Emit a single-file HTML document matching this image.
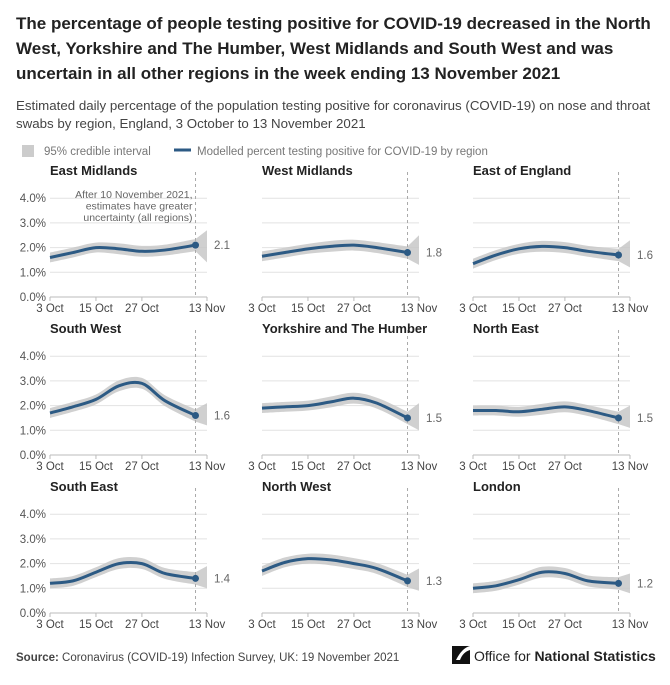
<!DOCTYPE html>
<html><head><meta charset="utf-8"><style>
body{margin:0;background:#fff;width:670px;height:680px;overflow:hidden;font-family:"Liberation Sans",sans-serif}
svg text{font-family:"Liberation Sans",sans-serif}
</style></head><body>
<svg id="c" width="670" height="680" viewBox="0 0 670 680">
<text x="16" y="29" font-size="17" font-weight="bold" fill="#222">The percentage of people testing positive for COVID-19 decreased in the North</text>
<text x="16" y="54" font-size="17" font-weight="bold" fill="#222">West, Yorkshire and The Humber, West Midlands and South West and was</text>
<text x="16" y="79" font-size="17" font-weight="bold" fill="#222">uncertain in all other regions in the week ending 13 November 2021</text>
<text x="16" y="110" font-size="13.3" fill="#444">Estimated daily percentage of the population testing positive for coronavirus (COVID-19) on nose and throat</text>
<text x="16" y="128" font-size="13.3" fill="#444">swabs by region, England, 3 October to 13 November 2021</text>
<rect x="22" y="145" width="12" height="12" fill="#ccc"/>
<text x="44" y="155" font-size="11.5" fill="#777">95% credible interval</text>
<line x1="174" y1="150" x2="191" y2="150" stroke="#2c5a84" stroke-width="3"/>
<text x="197" y="155" font-size="11.5" fill="#777">Modelled percent testing positive for COVID-19 by region</text>
<g id="panels"></g>
<text x="16" y="661" font-size="11.5" fill="#444"><tspan font-weight="bold">Source:</tspan> Coronavirus (COVID-19) Infection Survey, UK: 19 November 2021</text>
<g>
<path d="M452 646 h18 v18 h-18 z" fill="#111"/>
<path d="M456 660 q6 -12 14 -14 v4 q-7 2 -10 10 z" fill="#fff"/>
<text x="474" y="661" font-size="14" fill="#222">Office for <tspan font-weight="bold">National Statistics</tspan></text>
</g>
</svg>
<script>
const regions=["East Midlands","West Midlands","East of England","South West","Yorkshire and The Humber","North East","South East","North West","London"];
const days=[0,6,12,18,24,30,38];
const values=[
[1.6,1.8,2.0,1.95,1.85,1.9,2.1],
[1.65,1.8,1.95,2.05,2.1,2.0,1.8],
[1.35,1.7,1.95,2.05,2.0,1.85,1.7],
[1.7,1.95,2.25,2.8,2.9,2.2,1.6],
[1.9,1.95,2.0,2.15,2.3,2.1,1.5],
[1.8,1.8,1.75,1.85,1.95,1.8,1.5],
[1.2,1.3,1.65,2.0,2.0,1.6,1.4],
[1.7,2.05,2.2,2.15,2.0,1.8,1.3],
[1.0,1.1,1.35,1.65,1.6,1.3,1.2]];
const halfWidth=[0.2,0.2,0.2,0.22,0.22,0.22,0.25];
const endLower=[1.4,1.3,1.2,1.2,1.0,1.1,1.0,0.9,0.8];
const endUpper=[2.7,2.5,2.3,2.1,2.1,2.0,1.9,1.8,1.6];
const endLabels=["2.1","1.8","1.6","1.6","1.5","1.5","1.4","1.3","1.2"];
const tickDays=[0,12,24,41];
const tickLabels=["3 Oct","15 Oct","27 Oct","13 Nov"];
const yTicks=[0,1,2,3,4];
const markerDay=38;
const NS="http://www.w3.org/2000/svg";
const g=document.getElementById('panels');
function el(t,a,p){const e=document.createElementNS(NS,t);for(const k in a)e.setAttribute(k,a[k]);(p||g).appendChild(e);return e;}
function smooth(pts){let d="M"+pts[0][0]+","+pts[0][1];for(let i=0;i<pts.length-1;i++){const p0=pts[i-1]||pts[i],p1=pts[i],p2=pts[i+1],p3=pts[i+2]||p2;const c1=[p1[0]+(p2[0]-p0[0])/6,p1[1]+(p2[1]-p0[1])/6],c2=[p2[0]-(p3[0]-p1[0])/6,p2[1]-(p3[1]-p1[1])/6];d+=" C"+c1+" "+c2+" "+p2;}return d;}
const colX=[50,262,473],rowY=[297,455,613];
regions.forEach((name,i)=>{
 const ox=colX[i%3],oy=rowY[Math.floor(i/3)];
 const x=d=>ox+d*157/41,y=v=>oy-v*24.7;
 const pg=el('g',{});
 
 
 const t=el('text',{x:ox,y:oy-122,'font-size':13,'font-weight':'bold',fill:'#222'},pg);t.textContent=name;
 
 
 yTicks.forEach(v=>{
  const l=el('line',{x1:ox,x2:x(41),y1:y(v),y2:y(v),stroke:v?'#e2e2e2':'#bbb','stroke-width':1},pg);
  
  
  if(i%3===0){const tt=el('text',{x:ox-4,y:y(v)+4,'font-size':11.5,fill:'#555','text-anchor':'end'},pg);tt.textContent=v.toFixed(1)+'%';
   
   }
 });
 tickDays.forEach((d,k)=>{
  el('line',{x1:x(d),x2:x(d),y1:oy,y2:oy+4,stroke:'#bbb'},pg);
  const tt=el('text',{x:x(d),y:oy+15,'font-size':11.5,fill:'#444','text-anchor':'middle'},pg);tt.textContent=tickLabels[k];
  
  
 });
 const up=days.map((d,k)=>[x(d),y(values[i][k]+halfWidth[k])]);
 const lo=days.map((d,k)=>[x(d),y(values[i][k]-halfWidth[k])]).reverse();
 let bd=smooth(up)+" L"+x(41)+","+y(endUpper[i])+" L"+x(41)+","+y(endLower[i])+" L"+lo[0]+" "+smooth(lo).slice(1)+"Z";
 const band=el('path',{d:bd,fill:'#c8c8c8',opacity:0.85},pg);
 
 
 const vl=el('line',{x1:x(markerDay),x2:x(markerDay),y1:oy-125,y2:oy,stroke:'#aaa','stroke-dasharray':'3,3'},pg);
 
 
 const line=el('path',{d:smooth(days.map((d,k)=>[x(d),y(values[i][k])])),fill:'none',stroke:'#2c5a84','stroke-width':3},pg);
 
 
 const last=values[i][values[i].length-1];
 const dot=el('circle',{cx:x(markerDay),cy:y(last),r:3.5,fill:'#2c5a84'},pg);
 
 
 const lb=el('text',{x:x(41)+7,y:y(last)+4,'font-size':11.5,fill:'#666'},pg);lb.textContent=endLabels[i];
 
 
 if(i===0){["After 10 November 2021,","estimates have greater","uncertainty (all regions)"].forEach((s,k)=>{
  const a=el('text',{x:x(markerDay)-3,y:oy-99+k*11.5,'font-size':10.5,fill:'#666','text-anchor':'end'},pg);a.textContent=s;
  
  });}
});
</script>
</body></html>
